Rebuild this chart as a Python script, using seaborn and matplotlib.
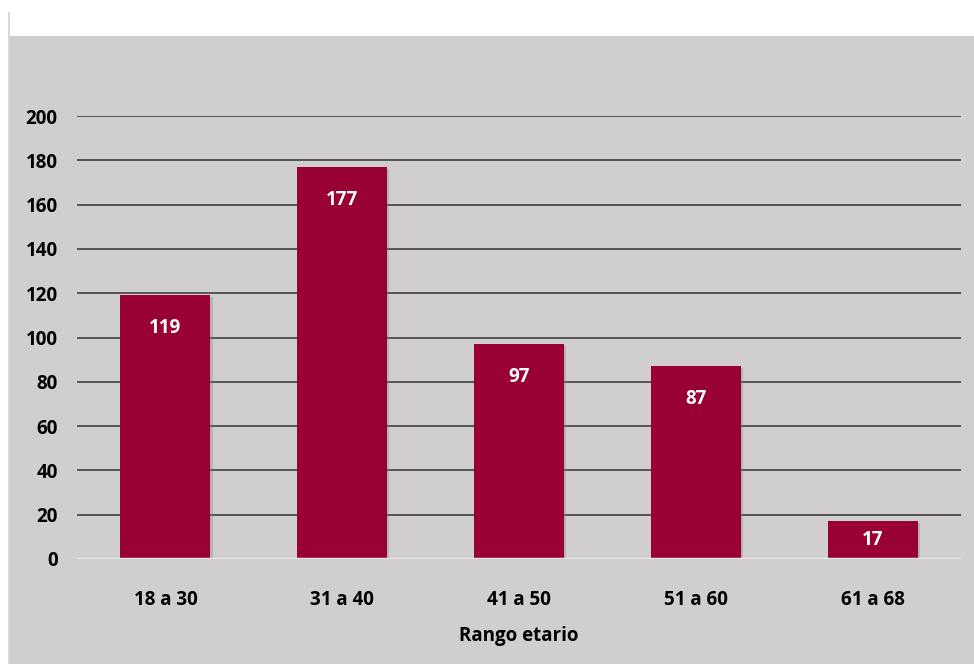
import pandas as pd
import matplotlib.pyplot as plt
import matplotlib.patheffects as pe
import seaborn as sns
from matplotlib.patches import Rectangle
from matplotlib.lines import Line2D

# Data
categories = ['18 a 30', '31 a 40', '41 a 50', '51 a 60', '61 a 68']
counts = [119, 177, 97, 87, 17]
yticks = [0, 20, 40, 60, 80, 100, 120, 140, 160, 180, 200]

df = pd.DataFrame({'rango': categories, 'cantidad': counts})

bg = '#d0cece'
bar_color = '#990033'

sns.set_style('white')
plt.rcParams['font.family'] = ['Open Sans', 'DejaVu Sans']
plt.rcParams['text.color'] = 'black'
plt.rcParams['xtick.color'] = 'black'
plt.rcParams['ytick.color'] = 'black'
plt.rcParams['axes.labelcolor'] = 'black'

W, H = 974, 664
fig = plt.figure(figsize=(W / 100, H / 100), dpi=100)
fig.patch.set_facecolor('white')

# gray panel behind the chart
fig.patches.append(Rectangle((10 / W, 0), 1 - 10 / W, 1 - 36 / H,
                             transform=fig.transFigure, facecolor=bg,
                             edgecolor='none', zorder=-5))
fig.lines.append(Line2D([9 / W, 9 / W], [0, 1 - 13 / H], transform=fig.transFigure,
                        color='#d9d9d9', lw=1.5, zorder=-4))

left, right = 77 / W, 961 / W
bottom, top = 1 - 559 / H, 1 - 116 / H
ax = fig.add_axes([left, bottom, right - left, top - bottom])
ax.set_facecolor('none')
ax.set_zorder(2)

sns.barplot(data=df, x='rango', y='cantidad', color=bar_color, width=0.51,
            saturation=1, linewidth=0, ax=ax, zorder=3)
for p in ax.patches:
    p.set_path_effects([pe.SimplePatchShadow(offset=(1.5, -1.5), shadow_rgbFace='#808080',
                                             alpha=0.35), pe.Normal()])

ax.set_ylim(0, 200)
ax.set_yticks(yticks)
ax.set_yticklabels([str(t) for t in yticks], fontsize=13.5, fontweight='bold')
for t in yticks[1:]:
    ax.axhline(t, color='#404040', lw=1.2, zorder=1)
ax.axhline(0, color='#e6e6e6', lw=2.5, zorder=4)

# value labels inside the bars, pulled down when the bar is short
px_per_unit = (559 - 116) / 200
for i, v in enumerate(counts):
    off = min(23.5, v * px_per_unit / 2 / 1.389)
    ax.annotate(str(v), (i, v), xytext=(0, -off), textcoords='offset points',
                ha='center', va='center', color='white', fontsize=13.5,
                fontweight='bold', zorder=5)

ax.tick_params(axis='both', length=0)
ax.tick_params(axis='y', pad=14)
ax.tick_params(axis='x', pad=22)
for lbl in ax.get_xticklabels():
    lbl.set_fontsize(13.5)
    lbl.set_fontweight('bold')
ax.set_ylabel('')
ax.set_xlabel('Rango etario', fontsize=13.5, fontweight='bold', labelpad=12)
sns.despine(ax=ax, left=True, bottom=True)

fig.savefig('out.png', dpi=100)
